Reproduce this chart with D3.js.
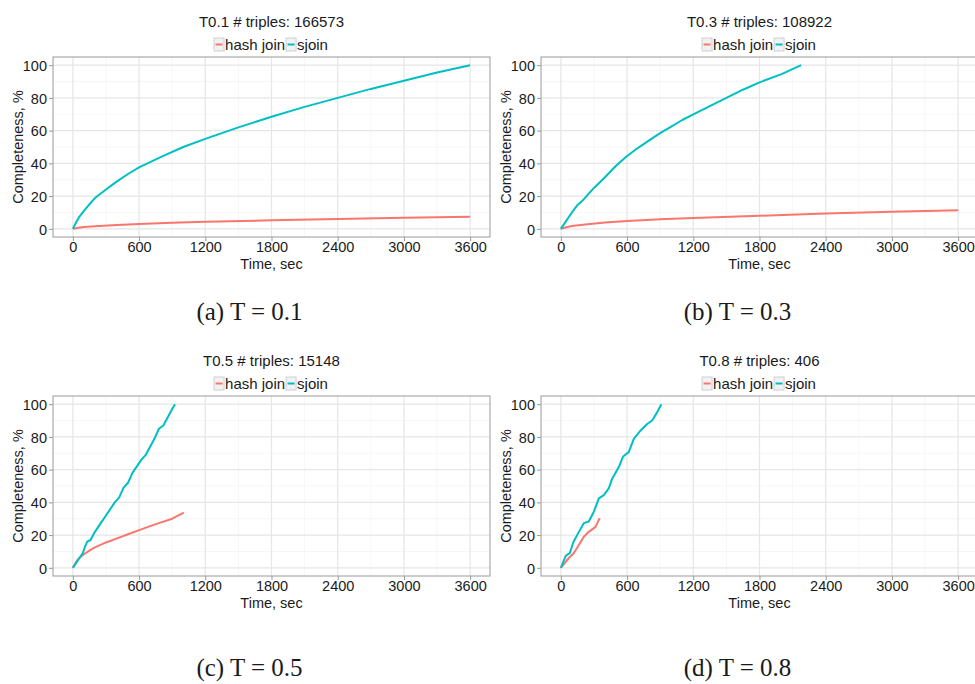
<!DOCTYPE html>
<html>
<head>
<meta charset="utf-8">
<script src="https://cdn.jsdelivr.net/npm/d3@7"></script>
<style>
  body { margin: 0; background: #fff; }
  svg { display: block; }
  text { font-family: "Liberation Sans", Arial, Helvetica, sans-serif; fill: #1a1a1a; }
  .caption { font-family: "Liberation Serif", "Times New Roman", serif; }
</style>
</head>
<body>
<svg id="chart" width="975" height="684"></svg>
<script>
// ---- data (time in sec, completeness in %) ----
const seriesNames = ["hash join", "sjoin"];
const seriesColors = ["#F8766D", "#00BFC4"];
const panelTitles = ["T0.1 # triples: 166573", "T0.3 # triples: 108922", "T0.5 # triples: 15148", "T0.8 # triples: 406"];
const captions = ["(a) T = 0.1", "(b) T = 0.3", "(c) T = 0.5", "(d) T = 0.8"];
const xTicks = [0, 600, 1200, 1800, 2400, 3000, 3600];
const xMinor = [300, 900, 1500, 2100, 2700, 3300];
const yTicks = [0, 20, 40, 60, 80, 100];
const yMinor = [10, 30, 50, 70, 90];

const hashA = [[0,0],[50,0.7],[100,1.1],[200,1.6],[400,2.4],[600,3],[900,3.7],[1200,4.3],[1800,5.2],[2400,6],[3000,6.7],[3600,7.4]];
const sjoinA = [[0,0],[30,4],[60,7.5],[100,11],[150,15],[200,18.8],[300,24],[400,29],[500,33.5],[600,37.5],[800,44],[1000,50],[1200,55],[1500,62],[1800,68.5],[2100,74.5],[2400,80],[2700,85.5],[3000,90.5],[3300,95.5],[3600,100]];

const hashB = [[0,0],[50,1],[100,1.7],[200,2.5],[400,3.8],[600,4.8],[900,5.8],[1200,6.6],[1800,8],[2400,9.3],[3000,10.4],[3600,11.4]];
const sjoinB = [[0,0],[50,5],[100,10],[150,14.5],[200,17.5],[300,25],[400,31.5],[500,38.5],[600,44.5],[700,49.5],[800,54],[900,58.5],[1000,62.5],[1100,66.5],[1200,70],[1350,75],[1500,80],[1650,85],[1800,89.5],[2000,94.5],[2177,100]];

const hashC = [[0,0],[25,3],[50,5.5],[100,8.3],[150,10.5],[200,12.5],[300,15.5],[400,18],[500,20.5],[600,23],[700,25.5],[800,27.8],[900,30],[1005,33.7]];
const sjoinC = [[0,0],[30,3],[60,6],[90,9],[110,13],[130,16],[160,17],[200,22],[250,27],[300,32],[350,37],[380,40],[420,43],[460,49],[500,52],[540,58],[580,62],[620,66],[660,69],[700,74],[740,79],[780,85],[820,87],[860,92],[900,97],[926,100]];

const hashD = [[0,0],[72,6],[118,9],[163,14],[208,19],[253,22],[314,25],[344,29.3],[353,30.3]];
const sjoinD = [[0,0],[45,7.5],[81,9],[112,15.5],[157,21.2],[208,27.3],[253,28.3],[299,34.3],[344,42.4],[389,44.4],[434,48.5],[465,54.5],[525,61.6],[564,68],[615,70.7],[661,78.8],[721,83.8],[782,87.9],[827,90],[872,95],[911,100]];

const panelData = [[hashA, sjoinA], [hashB, sjoinB], [hashC, sjoinC], [hashD, sjoinD]];

// ---- layout ----
const svg = d3.select("#chart");
const plotW = 437, plotH = 180;
const origins = [[53, 57], [541, 57], [53, 396], [541, 396]];
const captionY = [320, 320, 676, 676];

panelData.forEach((series, i) => {
  const [ox, oy] = origins[i];
  const g = svg.append("g").attr("transform", "translate(" + ox + "," + oy + ")");

  const x = d3.scaleLinear().domain([-180, 3780]).range([0, plotW]);
  const y = d3.scaleLinear().domain([-5, 105]).range([plotH, 0]);

  // grid
  g.selectAll(".xminor").data(xMinor).enter().append("line")
    .attr("x1", d => x(d)).attr("x2", d => x(d)).attr("y1", 0).attr("y2", plotH)
    .attr("stroke", "#f4f4f4").attr("stroke-width", 0.8);
  g.selectAll(".yminor").data(yMinor).enter().append("line")
    .attr("y1", d => y(d)).attr("y2", d => y(d)).attr("x1", 0).attr("x2", plotW)
    .attr("stroke", "#f4f4f4").attr("stroke-width", 0.8);
  g.selectAll(".xmajor").data(xTicks).enter().append("line")
    .attr("x1", d => x(d)).attr("x2", d => x(d)).attr("y1", 0).attr("y2", plotH)
    .attr("stroke", "#e6e6e6").attr("stroke-width", 1.2);
  g.selectAll(".ymajor").data(yTicks).enter().append("line")
    .attr("y1", d => y(d)).attr("y2", d => y(d)).attr("x1", 0).attr("x2", plotW)
    .attr("stroke", "#e6e6e6").attr("stroke-width", 1.2);

  // axes
  const xAxis = g.append("g").attr("transform", "translate(0," + plotH + ")")
    .call(d3.axisBottom(x).tickValues(xTicks).tickSize(4).tickPadding(1).tickFormat(d3.format("d")));
  const yAxis = g.append("g")
    .call(d3.axisLeft(y).tickValues(yTicks).tickSize(4).tickPadding(2).tickFormat(d3.format("d")));
  [xAxis, yAxis].forEach(a => {
    a.select(".domain").remove();
    a.selectAll(".tick line").attr("stroke", "#999");
    a.selectAll(".tick text").attr("font-size", 14.5).attr("fill", "#1a1a1a")
      .style("font-family", "'Liberation Sans', Arial, sans-serif");
  });
  yAxis.selectAll(".tick text").attr("dy", "0.36em");

  // border
  g.append("rect").attr("width", plotW).attr("height", plotH)
    .attr("fill", "none").attr("stroke", "#9a9a9a").attr("stroke-width", 1);

  // lines
  const line = d3.line().x(d => x(d[0])).y(d => y(d[1]));
  series.forEach((s, k) => {
    g.append("path").datum(s).attr("d", line)
      .attr("fill", "none").attr("stroke", seriesColors[k]).attr("stroke-width", 2)
      .attr("stroke-linejoin", "round");
  });

  // axis titles
  g.append("text").attr("x", plotW / 2).attr("y", plotH + 32)
    .attr("text-anchor", "middle").attr("font-size", 14.5).text("Time, sec");
  g.append("text").attr("transform", "translate(-30," + (plotH / 2) + ") rotate(-90)")
    .attr("text-anchor", "middle").attr("font-size", 14.5).text("Completeness, %");

  // title
  g.append("text").attr("x", plotW / 2).attr("y", -30)
    .attr("text-anchor", "middle").attr("font-size", 15).text(panelTitles[i]);

  // legend
  const leg = g.append("g").attr("transform", "translate(" + (plotW / 2) + ",-7)");
  const legItems = leg.append("g");
  let cx = 0;
  seriesNames.forEach((name, k) => {
    const item = legItems.append("g").attr("transform", "translate(" + cx + ",0)");
    item.append("rect").attr("x", 0).attr("y", -12).attr("width", 10).attr("height", 13)
      .attr("fill", "#f2f2f2").attr("stroke", "#cfcfcf").attr("stroke-width", 1);
    item.append("line").attr("x1", 1.5).attr("x2", 8.5).attr("y1", -5.5).attr("y2", -5.5)
      .attr("stroke", seriesColors[k]).attr("stroke-width", 2);
    const t = item.append("text").attr("x", 11).attr("y", 0).attr("font-size", 15).text(name);
    cx += 11 + t.node().getComputedTextLength() + 1;
  });
  legItems.attr("transform", "translate(" + (-cx / 2) + ",0)");

  // caption
  svg.append("text").attr("class", "caption")
    .attr("x", ox + plotW / 2 - 22).attr("y", captionY[i])
    .attr("text-anchor", "middle").attr("font-size", 25).text(captions[i]);
});
</script>
</body>
</html>
